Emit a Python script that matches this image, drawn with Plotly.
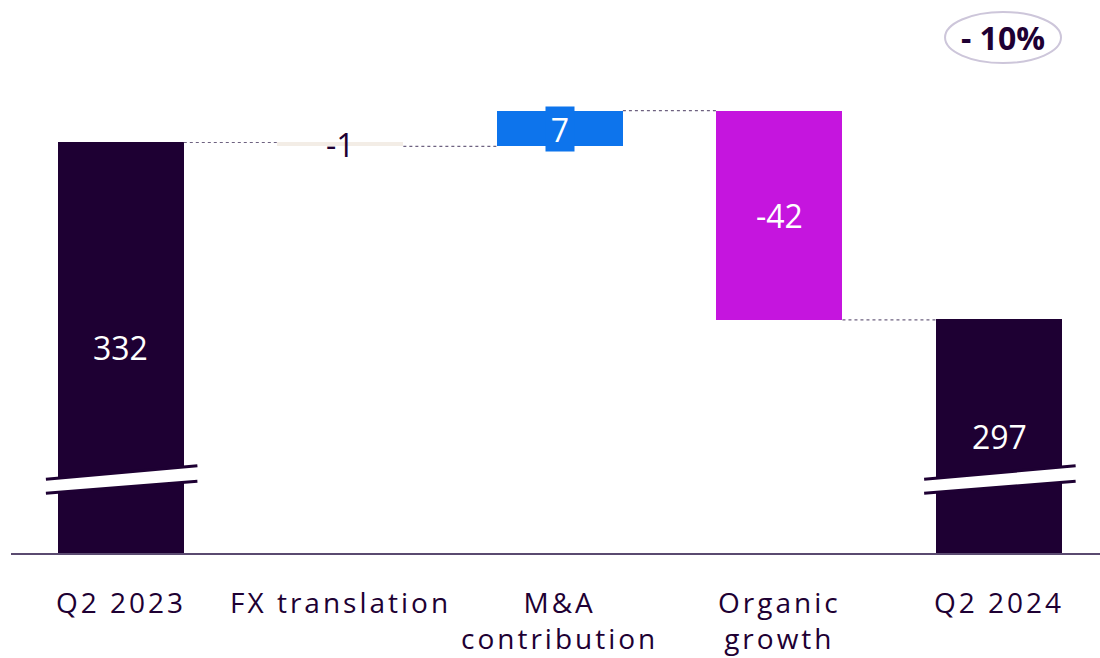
import plotly.graph_objects as go

categories = ["Q2 2023", "FX translation", "M&A<br>contribution", "Organic<br>growth", "Q2 2024"]
start_value = 332.4
deltas = [-0.8, 7.2, -42.0]
end_value = 296.9
value_labels = ["332", "-1", "7", "-42", "297"]
change_label = "- 10%"

DARK = "#1e0033"
BLUE = "#0d74ec"
MAGENTA = "#c515de"
BEIGE = "#f3ede6"
bar_colors = [DARK, BEIGE, BLUE, MAGENTA, DARK]
label_colors = ["white", DARK, "white", "white", "white"]
label_bg = [None, None, BLUE, None, None]

Y_MIN, Y_MAX = 250, 361
BAR_W = 0.574

# compute bases and heights
bases, heights = [], []
bases.append(Y_MIN); heights.append(start_value - Y_MIN)
level = start_value
levels = [start_value]
for d in deltas:
    lo = min(level, level + d)
    bases.append(lo); heights.append(abs(d))
    level += d
    levels.append(level)
bases.append(Y_MIN); heights.append(end_value - Y_MIN)

xs = list(range(len(categories)))

fig = go.Figure()
fig.add_trace(go.Bar(
    x=xs, y=heights, base=bases, width=BAR_W,
    marker=dict(color=bar_colors, line=dict(width=0)),
    hoverinfo="skip", showlegend=False,
))

# connectors
cx, cy = [], []
for i, lv in enumerate(levels):
    cx += [i + BAR_W / 2, i + 1 - BAR_W / 2, None]
    cy += [lv, lv, None]
fig.add_trace(go.Scatter(
    x=cx, y=cy, mode="lines",
    line=dict(color="#6e6280", width=1.2, dash="dot"),
    hoverinfo="skip", showlegend=False,
))

annotations = []
for i in xs:
    mid = bases[i] + heights[i] / 2
    a = dict(x=i, y=mid, xref="x", yref="y", text=value_labels[i], showarrow=False,
             font=dict(family="Open Sans, Liberation Sans, Arial", size=32, color=label_colors[i]),
             xanchor="center", yanchor="middle")
    if label_bg[i]:
        a.update(bgcolor=label_bg[i], borderpad=0, width=28, height=44)
    annotations.append(a)

for i, c in enumerate(categories):
    txt = "<br>".join(f'<span style="letter-spacing:3px">{p}</span>' for p in c.split("<br>"))
    annotations.append(dict(x=i, y=0, xref="x", yref="paper", text=txt, showarrow=False,
                            font=dict(family="Open Sans, sans-serif", size=28, color=DARK),
                            xanchor="center", yanchor="top", yshift=-28))

annotations.append(dict(x=0.911, y=0.933, xref="paper", yref="paper", text="<b>" + change_label + "</b>",
                        showarrow=False, font=dict(family="Open Sans, sans-serif", size=32, color=DARK),
                        xanchor="center", yanchor="middle"))

shapes = []
# axis break marks on total bars
for i in (0, len(categories) - 1):
    x0, x1 = i - 0.341, i + 0.349
    up0, up1 = 264.8, 267.5
    lo0, lo1 = 262.0, 264.4
    shapes.append(dict(type="path", xref="x", yref="y", layer="above",
                       path=f"M {x0} {lo0} L {x1} {lo1} L {x1} {up1} L {x0} {up0} Z",
                       fillcolor="white", line=dict(width=0)))
    for (ya, yb) in ((up0, up1), (lo0, lo1)):
        shapes.append(dict(type="line", xref="x", yref="y", layer="above",
                           x0=x0, y0=ya, x1=x1, y1=yb, line=dict(color=DARK, width=3)))

shapes.append(dict(type="circle", xref="paper", yref="paper",
                   x0=0.8577, x1=0.9642, y0=0.886, y1=0.9783,
                   line=dict(color="#cdc6da", width=2)))

fig.update_layout(
    width=1100, height=658,
    margin=dict(l=11, r=0, t=0, b=105),
    plot_bgcolor="white", paper_bgcolor="white",
    annotations=annotations, shapes=shapes,
    bargap=0,
    xaxis=dict(range=[-0.5, 4.46], showticklabels=False, showgrid=False, zeroline=False,
               showline=True, linecolor="#5a4a70", linewidth=1.5, ticks=""),
    yaxis=dict(range=[Y_MIN, Y_MAX], visible=False, showgrid=False),
)

fig.write_html("out.html")
